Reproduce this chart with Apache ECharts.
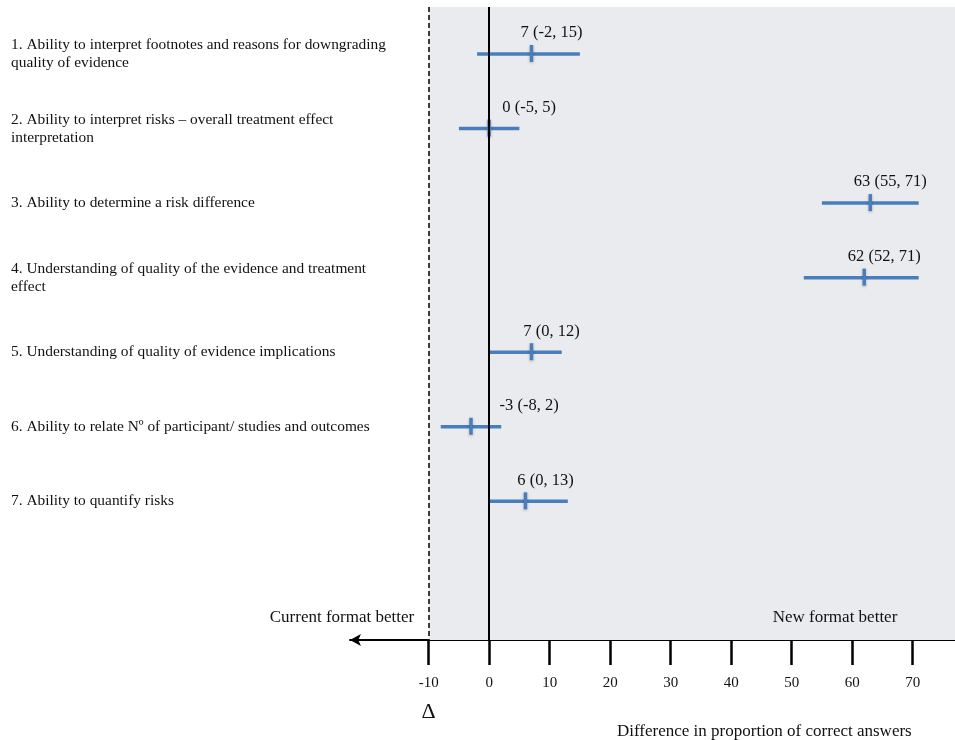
<!DOCTYPE html>
<html>
<head>
<meta charset="utf-8">
<script src="https://cdn.jsdelivr.net/npm/echarts@6/dist/echarts.min.js"></script>
<style>
  html, body { margin: 0; padding: 0; background: #fff; }
  #forest { width: 955px; height: 740px; }
</style>
</head>
<body>
<div id="forest"></div>
<script>
var categories = [
    '1. Ability to interpret footnotes and reasons for downgrading quality of evidence',
    '2. Ability to interpret risks \u2013 overall treatment effect interpretation',
    '3. Ability to determine a risk difference',
    '4. Understanding of quality of the evidence and treatment effect',
    '5. Understanding of quality of evidence implications',
    '6. Ability to relate N\u00ba of participant/ studies and outcomes',
    '7. Ability to quantify risks'
];
var estimates = [7, 0, 63, 62, 7, -3, 6];
var lower = [-2, -5, 55, 52, 0, -8, 0];
var upper = [15, 5, 71, 71, 12, 2, 13];
var tickValues = [-10, 0, 10, 20, 30, 40, 50, 60, 70];

var serif = '"Liberation Serif", "Times New Roman", serif';
var blue = '#4a7ebb';

var forest = echarts.init(document.getElementById('forest'));

var rows = categories.map(function (c, i) {
    return [estimates[i], i, lower[i], upper[i]];
});

option = {
    animation: false,
    backgroundColor: '#fff',
    grid: {
        left: 350,
        right: 0,
        top: 7,
        bottom: 100,
        outerBoundsMode: 'none'
    },
    xAxis: {
        type: 'value',
        min: -23,
        max: 77,
        splitLine: { show: false },
        axisLine: {
            show: true,
            onZero: false,
            symbol: ['arrow', 'none'],
            symbolSize: [9, 11],
            lineStyle: { color: '#000', width: 2 }
        },
        axisTick: {
            show: true,
            customValues: tickValues,
            length: 25,
            lineStyle: { color: '#000', width: 2.5 }
        },
        axisLabel: {
            customValues: tickValues,
            margin: 36,
            color: '#111',
            fontFamily: serif,
            fontSize: 15
        }
    },
    yAxis: {
        type: 'value',
        inverse: true,
        min: -0.63,
        max: 7.86,
        splitLine: { show: false },
        axisLine: { show: false },
        axisTick: { show: false },
        axisLabel: {
            customValues: categories.map(function (c, i) { return i; }),
            formatter: function (v) { return categories[v]; },
            align: 'left',
            margin: 339,
            width: 380,
            overflow: 'break',
            lineHeight: 18,
            color: '#111',
            fontFamily: serif,
            fontSize: 15.4
        }
    },
    series: [
        {
            type: 'custom',
            data: rows,
            encode: { x: 0, y: 1 },
            renderItem: function (params, api) {
                var est = api.value(0), yi = api.value(1);
                var lo = api.value(2), hi = api.value(3);
                var p = api.coord([est, yi]);
                var a = api.coord([lo, yi]);
                var b = api.coord([hi, yi]);
                var zeroX = api.coord([0, yi])[0];
                var labelX = Math.max(p[0] + 20, zeroX + 40);
                return {
                    type: 'group',
                    children: [
                        {
                            type: 'line',
                            shape: { x1: a[0], y1: a[1], x2: b[0], y2: b[1] },
                            style: { stroke: blue, lineWidth: 3.5 }
                        },
                        {
                            type: 'line',
                            shape: { x1: p[0], y1: p[1] - 9, x2: p[0], y2: p[1] + 8 },
                            style: {
                                stroke: blue, lineWidth: 3.5,
                                shadowBlur: 3, shadowColor: 'rgba(0,0,0,0.25)', shadowOffsetY: 1
                            }
                        },
                        {
                            type: 'text',
                            style: {
                                text: est + ' (' + lo + ', ' + hi + ')',
                                x: labelX,
                                y: p[1] - 21,
                                align: 'center',
                                verticalAlign: 'middle',
                                fontFamily: serif,
                                fontSize: 16.5,
                                fill: '#111'
                            }
                        }
                    ]
                };
            },
            markArea: {
                silent: true,
                itemStyle: { color: '#e9ebee' },
                data: [[{ xAxis: -10 }, { xAxis: 77 }]]
            },
            markLine: {
                silent: true,
                symbol: 'none',
                label: { show: false },
                data: [
                    { xAxis: -10, lineStyle: { color: '#000', width: 1.5, type: [5, 3] } },
                    { xAxis: 0, lineStyle: { color: '#000', width: 2, type: 'solid' } }
                ]
            }
        }
    ]
};
forest.setOption(option);

// annotations under / around the axis
var deltaX = forest.convertToPixel({ xAxisIndex: 0 }, -10);
forest.setOption({
    graphic: [
        {
            type: 'text', x: 342, y: 618, z: 100,
            style: { text: 'Current format better', align: 'center', verticalAlign: 'middle', fontFamily: serif, fontSize: 17, fill: '#111' }
        },
        {
            type: 'text', x: 835, y: 618, z: 100,
            style: { text: 'New format better', align: 'center', verticalAlign: 'middle', fontFamily: serif, fontSize: 17, fill: '#111' }
        },
        {
            type: 'text', x: deltaX, y: 712, z: 100,
            style: { text: '\u0394', align: 'center', verticalAlign: 'middle', fontFamily: serif, fontSize: 22, fill: '#111' }
        },
        {
            type: 'text', x: 617, y: 732, z: 100,
            style: { text: 'Difference in proportion of correct answers', align: 'left', verticalAlign: 'middle', fontFamily: serif, fontSize: 17, fill: '#111' }
        }
    ]
});
</script>
</body>
</html>
